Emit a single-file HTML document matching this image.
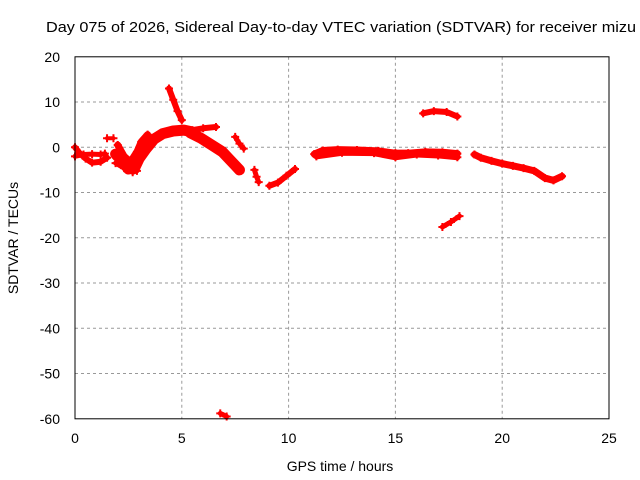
<!DOCTYPE html>
<html><head><meta charset="utf-8"><style>
body{margin:0;background:#fff}
svg{display:block;font-family:"Liberation Sans",sans-serif}
</style></head><body>
<svg id="chart" width="640" height="480" viewBox="0 0 640 480">
<rect width="640" height="480" fill="#fff"/>
<g id="grid"></g>
<g id="ticks"></g>
<g id="data"></g>
<rect x="75" y="56.8" width="534" height="362" fill="none" stroke="#000" stroke-width="1"/>
<text x="46" y="32" font-size="15" textLength="590" lengthAdjust="spacingAndGlyphs">Day 075 of 2026, Sidereal Day-to-day VTEC variation (SDTVAR) for receiver mizu</text>
<text x="340" y="471" font-size="14" text-anchor="middle">GPS time / hours</text>
<text x="18" y="238" font-size="14" text-anchor="middle" transform="rotate(-90 18 238)">SDTVAR / TECUs</text>
</svg>
<script>
const xTicks=[0,5,10,15,20,25];
const yTicks=[20,10,0,-10,-20,-30,-40,-50,-60];
// tracks: [hour, value]
const track1=[[0,0],[0.2,-1.2],[0.5,-2.5],[0.8,-3.4],[1.2,-3.2],[1.5,-2.3]];
const track1b=[[0,-2],[0.4,-1.6],[0.8,-1.5],[1.2,-1.6],[1.4,-1.4]];
const track2=[[1.5,2],[1.8,2]];
const track3=[[1.9,-1.5],[2.2,-3],[2.5,-4.8],[2.8,-4.5],[3.0,-2.5],[3.3,-0.5],[3.7,1.8],[4.1,3],[4.6,3.6],[5.1,3.8],[5.4,3.5]];
const track3b=[[2.0,0.5],[2.3,-2],[2.6,-3.2],[2.9,-1],[3.1,1.2],[3.4,2.8]];
const track3c=[[1.9,-3.5],[2.3,-4.6],[2.7,-5.5],[2.9,-5.2]];
const track4=[[4.4,13],[4.6,10.5],[4.8,8],[5.0,6]];
const track5=[[5.4,3.2],[5.9,2],[6.4,0.5],[6.9,-1],[7.2,-2.5],[7.5,-4],[7.7,-5]];
const track5b=[[5.5,3.8],[6.0,4.2],[6.6,4.5]];
const track6=[[7.5,2.3],[7.7,0.8],[7.9,-0.3]];
const track7=[[8.4,-5],[8.5,-6.5],[8.6,-7.7]];
const track8=[[9.1,-8.5],[9.5,-7.8],[9.9,-6.3],[10.3,-4.8]];
const track9=[[6.8,-58.8],[7.1,-59.5]];
const track10=[[11.2,-1.5],[11.6,-0.7],[12.3,-0.5],[13.2,-0.6],[14.2,-0.8],[15.0,-1.3],[15.6,-1.3],[16.4,-1],[17.2,-1.1],[17.9,-1.4]];
const track10b=[[11.3,-2],[12.5,-1.2],[14,-1.3],[15,-2.2],[16,-1.6],[17,-1.8],[17.9,-2.2]];
const track11=[[16.3,7.5],[16.8,8],[17.4,7.8],[17.9,6.8]];
const track12=[[17.2,-17.6],[17.6,-16.5],[18.0,-15.2]];
const track13=[[18.7,-1.6],[19.0,-2.3],[19.5,-3],[20.0,-3.6],[20.5,-4.1],[21.0,-4.6],[21.5,-5.2],[22.0,-6.8],[22.4,-7.3],[22.8,-6.4]];
const tracks=[[track1,6],[track1b,5],[track2,4],[track3,11],[track3b,7],[track3c,5],[track4,6],[track5,11],[track5b,6],[track6,5],[track7,5],[track8,6],[track9,5],[track10,7],[track10b,6],[track11,6],[track12,5],[track13,7]];

const X=h=>75+h*21.36;
const Y=v=>147.3-v*4.525;
const NS='http://www.w3.org/2000/svg';
const grid=document.getElementById('grid'),ticks=document.getElementById('ticks'),data=document.getElementById('data');
function mk(tag,attrs,parent){const e=document.createElementNS(NS,tag);for(const k in attrs)e.setAttribute(k,attrs[k]);parent.appendChild(e);return e;}
xTicks.forEach(t=>{
  const x=X(t);
  if(t>0&&t<25){const l=mk('line',{x1:x,x2:x,y1:56.8,y2:418.8,stroke:'#999','stroke-width':1,'stroke-dasharray':'3,3'},grid);
  
  }
  const tx=mk('text',{x:x,y:443,'font-size':14,'text-anchor':'middle'},ticks);tx.textContent=t;
  
  
});
yTicks.forEach(t=>{
  const y=Y(t);
  if(t<20&&t>-60){const l=mk('line',{x1:75,x2:609,y1:y,y2:y,stroke:'#999','stroke-width':1,'stroke-dasharray':'3,3'},grid);
  
  }
  const tx=mk('text',{x:60,y:y+5,'font-size':14,'text-anchor':'end'},ticks);tx.textContent=t;
  
  
});
tracks.forEach(([pts,w])=>{
  const p=mk('polyline',{points:pts.map(q=>X(q[0])+','+Y(q[1])).join(' '),fill:'none',stroke:'#f00','stroke-width':w,'stroke-linejoin':'round','stroke-linecap':'round'},data);
  
  
  pts.forEach(q=>{
    const m=mk('path',{d:`M${X(q[0])-4},${Y(q[1])}h8M${X(q[0])},${Y(q[1])-4}v8`,stroke:'#f00','stroke-width':2},data);
    
    
  });
});
</script>
</body></html>
